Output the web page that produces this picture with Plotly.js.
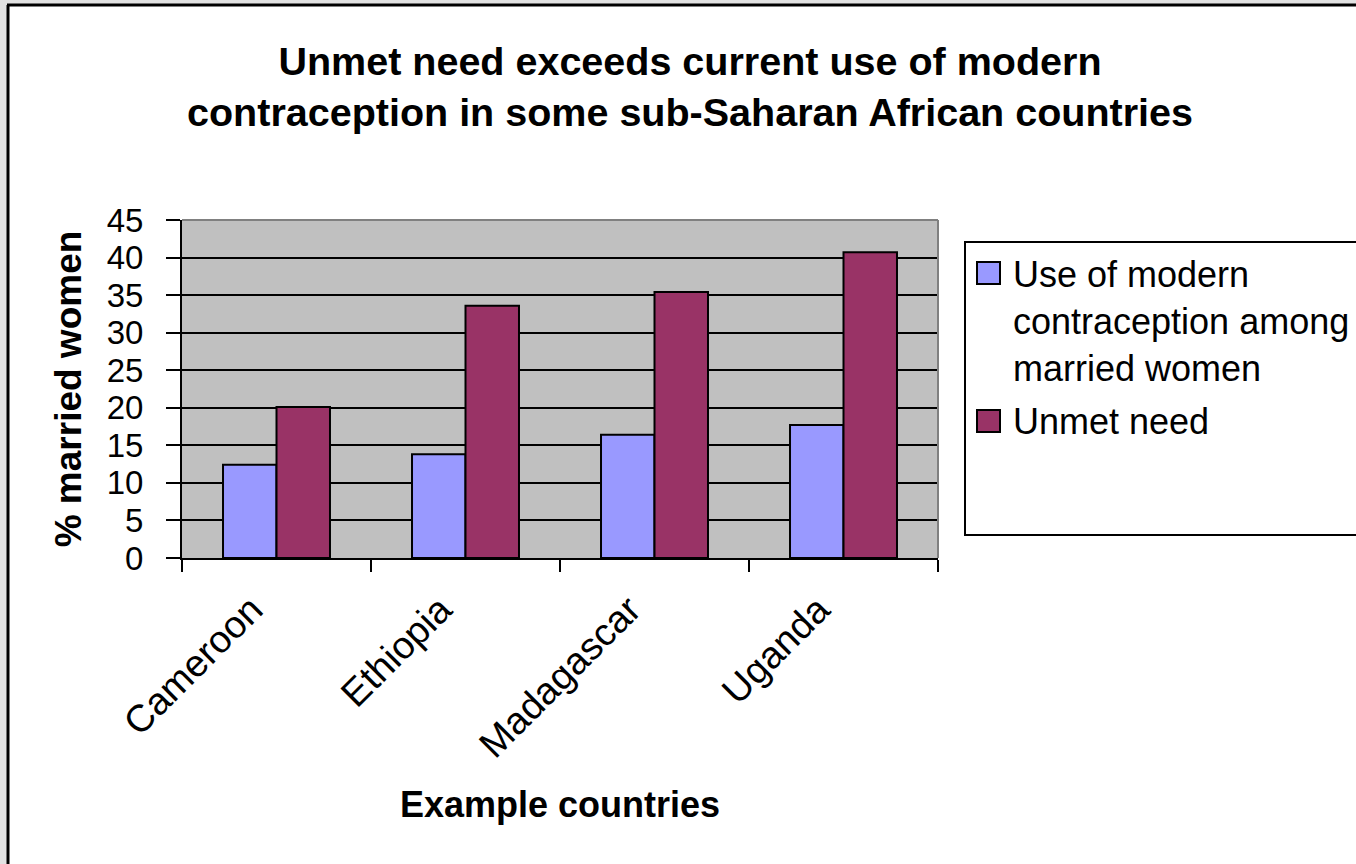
<!DOCTYPE html>
<html>
<head>
<meta charset="utf-8">
<script src="https://cdn.plot.ly/plotly-3.0.1.min.js"></script>
<style>
  html, body { margin: 0; padding: 0; background: #ffffff; }
  #chart { width: 1356px; height: 864px; }
</style>
</head>
<body>
<div id="chart"></div>
<script>
// Countries shown on the category axis
const countries = ["Cameroon", "Ethiopia", "Madagascar", "Uganda"];

// Percentage of married women, per country
const modernUse = [12.4, 13.8, 16.4, 17.7];
const unmetNeed = [20.1, 33.6, 35.4, 40.7];

// Series labels (wrapped as they appear in the legend box)
const seriesNames = ["Use of modern<br>contraception among<br>married women", "Unmet need"];
const seriesColors = ["#9999FF", "#993366"];

const yTicks = [0, 5, 10, 15, 20, 25, 30, 35, 40, 45];

const FONT = "Liberation Sans, Arial, sans-serif";

// Plot-area box in pixels, used for margins and for the decorative shapes
const W = 1356, H = 864;
const L = 182, R = 938, T = 220, B = 558;
const px2x = p => (p - L) / (R - L);
const px2y = p => (B - p) / (B - T);

const traces = [modernUse, unmetNeed].map((vals, i) => ({
  type: "bar",
  x: countries,
  y: vals,
  name: seriesNames[i],
  marker: { color: seriesColors[i], line: { color: "#000000", width: 2 } },
  showlegend: false,
  hoverinfo: "x+y"
}));

// Hand-built legend: large square swatches plus wrapped labels
const legendShapes = [
  { type: "rect", xref: "paper", yref: "paper",
    x0: px2x(965), x1: px2x(1380), y0: px2y(242), y1: px2y(535),
    line: { color: "#000000", width: 2 }, fillcolor: "#ffffff", layer: "above" },
  { type: "rect", xref: "paper", yref: "paper",
    x0: px2x(977), x1: px2x(1000), y0: px2y(262), y1: px2y(284),
    line: { color: "#000000", width: 2 }, fillcolor: seriesColors[0], layer: "above" },
  { type: "rect", xref: "paper", yref: "paper",
    x0: px2x(977), x1: px2x(1000), y0: px2y(410), y1: px2y(432),
    line: { color: "#000000", width: 2 }, fillcolor: seriesColors[1], layer: "above" }
];

const legendLabels = [
  { xref: "paper", yref: "paper", x: px2x(1011), y: px2y(252),
    xanchor: "left", yanchor: "top", align: "left", showarrow: false,
    text: seriesNames[0], font: { family: FONT, size: 36, color: "#000000" } },
  { xref: "paper", yref: "paper", x: px2x(1011), y: px2y(421),
    xanchor: "left", yanchor: "middle", align: "left", showarrow: false,
    text: seriesNames[1], font: { family: FONT, size: 36, color: "#000000" } }
];

// Outer frame: grey strip with a dark rule along the left and top edges
const frameShapes = [
  { type: "rect", xref: "paper", yref: "paper",
    x0: px2x(0), x1: px2x(7), y0: px2y(0), y1: px2y(H),
    line: { width: 0 }, fillcolor: "#e2e2e2", layer: "above" },
  { type: "rect", xref: "paper", yref: "paper",
    x0: px2x(0), x1: px2x(W), y0: px2y(0), y1: px2y(4),
    line: { width: 0 }, fillcolor: "#e2e2e2", layer: "above" },
  { type: "line", xref: "paper", yref: "paper",
    x0: px2x(8), x1: px2x(8), y0: px2y(5), y1: px2y(H),
    line: { color: "#000000", width: 3 }, layer: "above" },
  { type: "line", xref: "paper", yref: "paper",
    x0: px2x(7), x1: px2x(W), y0: px2y(5), y1: px2y(5),
    line: { color: "#000000", width: 3 }, layer: "above" }
];

// Grey border on the top and right of the plot area
const plotBorder = [
  { type: "line", xref: "paper", yref: "paper", x0: 0, x1: 1, y0: 1, y1: 1,
    line: { color: "#808080", width: 2 }, layer: "above" },
  { type: "line", xref: "paper", yref: "paper", x0: 1, x1: 1, y0: 0, y1: 1,
    line: { color: "#808080", width: 2 }, layer: "above" }
];

const layout = {
  width: W,
  height: H,
  margin: { l: L, r: W - R, t: T, b: H - B, pad: 0 },
  paper_bgcolor: "#ffffff",
  plot_bgcolor: "#c0c0c0",
  barmode: "group",
  bargap: 0.434,
  bargroupgap: 0,
  showlegend: false,
  title: {
    text: "<b>Unmet need exceeds current use of modern<br>contraception in some sub-Saharan African countries</b>",
    font: { family: FONT, size: 39.5, color: "#000000" },
    xref: "container", x: 690 / W, xanchor: "center",
    yref: "container", y: 1 - 75 / H, yanchor: "middle"
  },
  xaxis: {
    type: "category",
    tickson: "boundaries",
    ticks: "outside",
    ticklen: 12,
    tickwidth: 2,
    tickcolor: "#000000",
    tickangle: -45,
    ticklabelstandoff: 12,
    ticklabelshift: -25,
    tickfont: { family: FONT, size: 38, color: "#000000" },
    showline: true,
    linecolor: "#000000",
    linewidth: 2,
    showgrid: false,
    zeroline: false,
    title: {
      text: "<b>Example countries</b>",
      font: { family: FONT, size: 36, color: "#000000" },
      standoff: 27
    }
  },
  yaxis: {
    range: [0, 45],
    tickvals: yTicks,
    ticktext: yTicks.map(String),
    ticks: "outside",
    ticklen: 14,
    tickwidth: 2,
    tickcolor: "#000000",
    ticklabelstandoff: 16,
    tickfont: { family: FONT, size: 33, color: "#000000" },
    showline: true,
    linecolor: "#000000",
    linewidth: 2,
    showgrid: true,
    gridcolor: "#000000",
    gridwidth: 2,
    zeroline: false,
    title: {
      text: "<b>% married women</b>",
      font: { family: FONT, size: 37, color: "#000000" },
      standoff: 14
    }
  },
  shapes: plotBorder.concat(legendShapes, frameShapes),
  annotations: legendLabels
};

Plotly.newPlot("chart", traces, layout, { displayModeBar: false, staticPlot: true });
</script>
</body>
</html>
